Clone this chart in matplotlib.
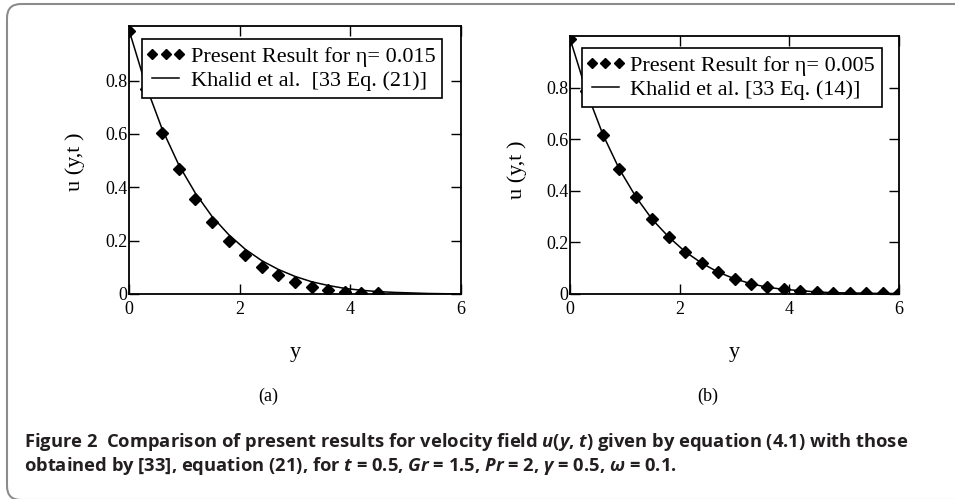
import matplotlib.pyplot as plt
import matplotlib.patches as mpatches
from matplotlib.lines import Line2D
from matplotlib.legend_handler import HandlerLine2D
import numpy as np

# markers, panel (a): eta = 0.015
xa_pts = [0.0, 0.3, 0.6, 0.9, 1.2, 1.5, 1.8, 2.1, 2.4, 2.7, 3.0, 3.3, 3.6, 3.9, 4.2, 4.5]
ua_pts = [0.985, 0.77, 0.6025, 0.4675, 0.3575, 0.271, 0.200, 0.146, 0.1025, 0.070,
          0.045, 0.0275, 0.015, 0.0075, 0.005, 0.004]

# markers, panel (b): eta = 0.005
xb_pts = [0.0, 0.3, 0.6, 0.9, 1.2, 1.5, 1.8, 2.1, 2.4, 2.7, 3.0, 3.3, 3.6, 3.9,
          4.2, 4.5, 4.8, 5.1, 5.4, 5.7, 6.0]
ub_pts = [0.99, 0.785, 0.618, 0.484, 0.377, 0.289, 0.221, 0.164, 0.120, 0.085,
          0.059, 0.040, 0.026, 0.018, 0.013, 0.008, 0.005, 0.004, 0.003, 0.002, 0.002]

# Khalid et al. curves
x_line = [0.0, 0.3, 0.6, 0.9, 1.2, 1.5, 1.8, 2.1, 2.4, 2.7, 3.0, 3.3, 3.6, 3.9,
          4.2, 4.5, 4.8, 5.1, 5.4, 5.7, 6.0]
ua_line = [0.99, 0.785, 0.618, 0.484, 0.378, 0.291, 0.223, 0.168, 0.125, 0.092,
           0.066, 0.046, 0.032, 0.021, 0.014, 0.009, 0.006, 0.004, 0.002, 0.001, 0.0005]
ub_line = [0.99, 0.785, 0.618, 0.484, 0.377, 0.289, 0.221, 0.164, 0.120, 0.085,
           0.059, 0.040, 0.026, 0.018, 0.013, 0.008, 0.005, 0.004, 0.003, 0.002, 0.002]

xticks = [0, 2, 4, 6]
yticks = [0, 0.2, 0.4, 0.6, 0.8]
ytick_labels = ['0', '0.2', '0.4', '0.6', '0.8']

serif = 'Liberation Serif'
W, H = 955, 499
fig = plt.figure(figsize=(W / 100, H / 100), dpi=100)


def px_axes(left, top, right, bottom):
    return fig.add_axes([left / W, 1 - bottom / H, (right - left) / W, (bottom - top) / H])


def style(ax, ytop):
    ax.set_xlim(0, 6)
    ax.set_ylim(0, ytop)
    ax.set_xticks(xticks)
    ax.set_xticklabels([str(t) for t in xticks], family=serif, fontsize=13)
    ax.set_yticks(yticks)
    ax.set_yticklabels(ytick_labels, family=serif, fontsize=13)
    ax.tick_params(direction='in', top=True, right=True, length=7, width=1, colors='black')
    ax.tick_params(axis='x', pad=5)
    ax.tick_params(axis='y', pad=1)
    for s in ax.spines.values():
        s.set_linewidth(1.3)


panels = [
    (px_axes(129, 26, 461, 294), 1.005, xa_pts, ua_pts, ua_line,
     'Present Result for η= 0.015', 'Khalid et al.  [33 Eq. (21)]', (0.040, 0.952), '(a)'),
    (px_axes(570, 36, 899, 294), 1.0, xb_pts, ub_pts, ub_line,
     'Present Result for η= 0.005', 'Khalid et al. [33 Eq. (14)]', (0.036, 0.952), '(b)'),
]

for ax, ytop, xp, up, ul, lab1, lab2, anchor, tag in panels:
    ax.plot(x_line, ul, color='black', lw=1.1, label=lab2, zorder=2)
    ax.plot(xp, up, 'D', color='black', ms=6, label=lab1, zorder=1)
    style(ax, ytop)
    h, l = ax.get_legend_handles_labels()
    leg = ax.legend(h[::-1], l[::-1], loc='upper left', bbox_to_anchor=anchor,
                    numpoints=3, markerscale=0.9, prop={'family': serif, 'size': 16},
                    fancybox=False, edgecolor='black', framealpha=1,
                    borderpad=0.32, labelspacing=0.16, handlelength=1.45,
                    handletextpad=0.4, borderaxespad=0,
                    handler_map={Line2D: HandlerLine2D(marker_pad=0.12)})
    leg.get_frame().set_linewidth(1.2)
    leg.set_zorder(5)
    pos = ax.get_position()
    cx = pos.x0 + pos.width / 2
    fig.text(cx, 1 - 353 / H, 'y', ha='center', va='center', family=serif, fontsize=16)
    fig.text(cx - 27 / W, 1 - 396 / H, tag, ha='center', va='center', family=serif, fontsize=13)

fig.text(75 / W, 1 - 162 / H, 'u (y,t )', rotation=90, ha='center', va='center',
         family=serif, fontsize=16)
fig.text(517 / W, 1 - 170 / H, 'u (y,t )', rotation=90, ha='center', va='center',
         family=serif, fontsize=16)

# caption
plt.rcParams['mathtext.fontset'] = 'custom'
plt.rcParams['mathtext.rm'] = 'Open Sans:bold'
plt.rcParams['mathtext.it'] = 'Open Sans:bold:italic'
cap1 = r'Figure 2  Comparison of present results for velocity field $u$($y$, $t$) given by equation (4.1) with those'
cap2 = r'obtained by [33], equation (21), for $t$ = 0.5, $Gr$ = 1.5, $Pr$ = 2, $γ$ = 0.5, $ω$ = 0.1.'
t1 = fig.text(24 / W, 1 - 442 / H, cap1, ha='left', va='center', family='Open Sans',
              weight='bold', fontsize=11, color='#231f20')
t2 = fig.text(24 / W, 1 - 466 / H, cap2, ha='left', va='center', family='Open Sans',
              weight='bold', fontsize=11, color='#231f20')
r = fig.canvas.get_renderer()
w1 = t1.get_window_extent(r).width
scale = 881 / w1
t1.set_fontsize(11 * scale)
t2.set_fontsize(11 * scale)

# rounded frame around the figure
frame = mpatches.FancyBboxPatch((7, -1), 1100, 496, boxstyle='round,pad=0,rounding_size=14',
                                transform=None, fill=False, edgecolor='#8c8c8c', lw=1.5)
fig.add_artist(frame)

fig.savefig('out.png', dpi=100)
